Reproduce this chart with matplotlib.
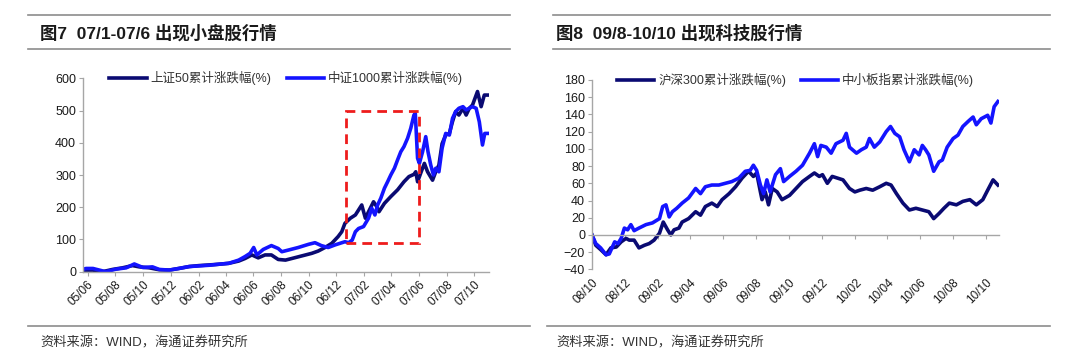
import numpy as np
import pandas as pd
import matplotlib
matplotlib.use("Agg")
import matplotlib.pyplot as plt
import matplotlib.dates as mdates
from matplotlib.patches import Rectangle
from matplotlib.lines import Line2D

plt.rcParams['font.family'] = ['Liberation Sans', 'Noto Sans CJK SC']

# ---- Figure 7 data: 上证50 vs 中证1000 cumulative change (%) ----
sz50_dates = ["2005-05-23", "2005-06-13", "2005-07-04", "2005-07-26", "2005-08-17", "2005-09-08",
              "2005-09-23", "2005-10-15", "2005-11-06", "2005-11-28", "2005-12-19", "2006-01-11",
              "2006-02-02", "2006-02-24", "2006-03-16", "2006-04-08", "2006-04-30", "2006-05-14",
              "2006-05-29", "2006-06-12", "2006-06-27", "2006-07-11", "2006-07-26", "2006-08-11",
              "2006-08-25", "2006-09-16", "2006-10-08", "2006-10-22", "2006-11-06", "2006-11-21",
              "2006-12-05", "2006-12-13", "2006-12-20", "2007-01-01", "2007-01-12", "2007-01-26",
              "2007-02-03", "2007-02-10", "2007-02-21", "2007-02-28", "2007-03-05", "2007-03-17",
              "2007-03-31", "2007-04-15", "2007-04-29", "2007-05-10", "2007-05-21", "2007-05-25",
              "2007-05-29", "2007-06-06", "2007-06-13", "2007-06-20", "2007-07-01", "2007-07-08",
              "2007-07-15", "2007-07-22", "2007-07-30", "2007-08-07", "2007-08-14", "2007-08-21",
              "2007-08-28", "2007-09-06", "2007-09-13", "2007-09-20", "2007-09-27", "2007-10-08",
              "2007-10-16", "2007-10-23", "2007-10-31"]
sz50_vals = [5, 5, 0, 7, 12, 19, 15, 12, 6, 5, 10, 16,
             19, 21, 23, 26, 33, 41, 52, 43, 52, 52, 38, 36,
             41, 49, 57, 64, 75, 88, 109, 124, 150, 166, 176, 207,
             166, 186, 217, 202, 186, 212, 233, 254, 279, 295, 302, 310,
             279, 310, 336, 310, 284, 310, 331, 397, 424, 429, 466, 497,
             486, 507, 486, 507, 517, 559, 512, 548, 548]

zz1000_dates = ["2005-05-23", "2005-05-29", "2005-06-13", "2005-06-27", "2005-07-11", "2005-08-03",
                "2005-08-25", "2005-09-12", "2005-10-01", "2005-10-22", "2005-11-06", "2005-11-28",
                "2005-12-19", "2006-01-11", "2006-02-02", "2006-02-24", "2006-03-16", "2006-04-08",
                "2006-04-30", "2006-05-14", "2006-05-25", "2006-06-02", "2006-06-09", "2006-06-23",
                "2006-07-11", "2006-07-26", "2006-08-03", "2006-08-17", "2006-09-08", "2006-10-01",
                "2006-10-15", "2006-10-29", "2006-11-13", "2006-11-28", "2006-12-09", "2006-12-20",
                "2006-12-28", "2007-01-05", "2007-01-12", "2007-01-19", "2007-01-30", "2007-02-10",
                "2007-02-17", "2007-02-24", "2007-03-02", "2007-03-09", "2007-03-17", "2007-03-24",
                "2007-03-31", "2007-04-08", "2007-04-15", "2007-04-22", "2007-04-29", "2007-05-07",
                "2007-05-14", "2007-05-21", "2007-05-24", "2007-05-29", "2007-06-02", "2007-06-09",
                "2007-06-16", "2007-06-21", "2007-06-27", "2007-07-03", "2007-07-08", "2007-07-15",
                "2007-07-22", "2007-07-30", "2007-08-07", "2007-08-14", "2007-08-21", "2007-08-28",
                "2007-09-06", "2007-09-13", "2007-09-20", "2007-09-27", "2007-10-05", "2007-10-12",
                "2007-10-19", "2007-10-24", "2007-10-31"]
zz1000_vals = [8, 10, 10, 5, 0, 8, 12, 24, 13, 15, 7, 5,
               10, 16, 18, 20, 23, 26, 36, 47, 57, 75, 52, 69,
               81, 72, 62, 67, 75, 85, 90, 81, 75, 83, 88, 93,
               90, 98, 124, 134, 140, 166, 197, 176, 207, 228, 259, 279,
               300, 321, 347, 372, 388, 414, 445, 486, 491, 352, 336, 372,
               419, 372, 331, 300, 321, 310, 383, 429, 424, 476, 497, 507,
               512, 502, 507, 512, 507, 465, 393, 429, 429]

box7_dates = ["2006-12-23", "2007-06-01"]
box7_range = [88, 498]

# ---- Figure 8 data: 沪深300 vs 中小板指 cumulative change (%) ----
hs300_dates = ["2008-10-01", "2008-10-08", "2008-10-17", "2008-10-27", "2008-11-05", "2008-11-15",
               "2008-11-24", "2008-12-03", "2008-12-09", "2008-12-18", "2008-12-27", "2009-01-06",
               "2009-01-15", "2009-01-24", "2009-02-03", "2009-02-10", "2009-02-18", "2009-02-24",
               "2009-03-02", "2009-03-11", "2009-03-17", "2009-03-29", "2009-04-11", "2009-04-20",
               "2009-04-29", "2009-05-11", "2009-05-21", "2009-05-30", "2009-06-12", "2009-06-24",
               "2009-07-06", "2009-07-18", "2009-07-27", "2009-08-02", "2009-08-09", "2009-08-12",
               "2009-08-18", "2009-08-24", "2009-08-31", "2009-09-09", "2009-09-18", "2009-10-02",
               "2009-10-14", "2009-10-26", "2009-11-08", "2009-11-17", "2009-11-26", "2009-12-02",
               "2009-12-11", "2009-12-20", "2009-12-30", "2010-01-09", "2010-01-21", "2010-01-31",
               "2010-02-09", "2010-02-21", "2010-03-05", "2010-03-18", "2010-03-30", "2010-04-08",
               "2010-04-18", "2010-04-30", "2010-05-12", "2010-05-24", "2010-06-05", "2010-06-17",
               "2010-06-26", "2010-07-06", "2010-07-15", "2010-07-25", "2010-08-07", "2010-08-19",
               "2010-09-01", "2010-09-13", "2010-09-25", "2010-10-04", "2010-10-14", "2010-10-23"]
hs300_vals = [0, -12, -17, -23, -15, -14, -8, -4, -6, -6, -15, -12,
              -10, -6, 2, 15, 6, 0, 6, 8, 15, 19, 27, 23,
              33, 37, 33, 41, 48, 56, 66, 74, 68, 72, 50, 41,
              50, 35, 54, 50, 41, 46, 54, 62, 68, 72, 68, 70,
              60, 68, 66, 64, 54, 50, 52, 54, 52, 56, 60, 58,
              48, 37, 29, 31, 29, 27, 19, 25, 31, 37, 35, 39,
              41, 35, 41, 52, 64, 58]

zxb_dates = ["2008-10-01", "2008-10-08", "2008-10-17", "2008-10-27", "2008-11-02", "2008-11-12",
             "2008-11-18", "2008-11-24", "2008-11-30", "2008-12-06", "2008-12-12", "2008-12-18",
             "2008-12-27", "2009-01-09", "2009-01-21", "2009-02-03", "2009-02-09", "2009-02-15",
             "2009-02-21", "2009-02-27", "2009-03-07", "2009-03-17", "2009-03-29", "2009-04-11",
             "2009-04-20", "2009-04-29", "2009-05-11", "2009-05-24", "2009-06-05", "2009-06-17",
             "2009-06-30", "2009-07-12", "2009-07-21", "2009-07-27", "2009-08-02", "2009-08-09",
             "2009-08-15", "2009-08-21", "2009-08-27", "2009-09-06", "2009-09-15", "2009-09-21",
             "2009-10-02", "2009-10-14", "2009-10-26", "2009-11-08", "2009-11-17", "2009-11-23",
             "2009-11-29", "2009-12-09", "2009-12-18", "2009-12-27", "2010-01-09", "2010-01-15",
             "2010-01-21", "2010-02-03", "2010-02-12", "2010-02-21", "2010-02-27", "2010-03-08",
             "2010-03-18", "2010-03-30", "2010-04-07", "2010-04-15", "2010-04-24", "2010-05-02",
             "2010-05-12", "2010-05-21", "2010-05-30", "2010-06-05", "2010-06-11", "2010-06-17",
             "2010-06-26", "2010-07-06", "2010-07-12", "2010-07-21", "2010-08-01", "2010-08-10",
             "2010-08-19", "2010-08-29", "2010-09-07", "2010-09-13", "2010-09-22", "2010-10-04",
             "2010-10-10", "2010-10-16", "2010-10-23"]
zxb_vals = [0, -10, -15, -23, -22, -8, -10, -4, 8, 6, 12, 5,
            8, 12, 14, 19, 33, 35, 21, 27, 31, 37, 43, 54,
            48, 56, 58, 58, 60, 62, 66, 74, 75, 81, 75, 58,
            48, 64, 50, 70, 77, 62, 68, 74, 81, 95, 106, 91,
            104, 102, 95, 106, 110, 118, 102, 95, 99, 102, 112, 102,
            108, 120, 126, 118, 114, 99, 85, 99, 93, 104, 99, 93,
            74, 85, 87, 102, 112, 116, 126, 132, 137, 128, 135, 139,
            130, 149, 155]

dark = '#0a0a72'
blue = '#1414ff'
grey = '#8c8c8c'

fig = plt.figure(figsize=(10.8, 3.62), dpi=100)


def style_axes(ax, yticks, xpad):
    for s in ['top', 'right']:
        ax.spines[s].set_visible(False)
    for s in ['left', 'bottom']:
        ax.spines[s].set_color('#a6a6a6')
        ax.spines[s].set_linewidth(1.0)
    ax.set_yticks(yticks)
    ax.tick_params(axis='y', length=3, color='#a6a6a6', labelsize=9, labelcolor='#1a1a1a', pad=2)
    ax.xaxis.set_major_locator(mdates.MonthLocator(bymonth=[2, 4, 6, 8, 10, 12]))
    ax.xaxis.set_major_formatter(mdates.DateFormatter('%y/%m'))
    ax.tick_params(axis='x', length=3, color='#a6a6a6', labelsize=8.5, labelcolor='#1a1a1a',
                   pad=xpad, labelrotation=45)
    plt.setp(ax.get_xticklabels(), ha='right', rotation_mode='anchor')
    ax.legend(loc='center', bbox_to_anchor=(0.5, 1.0), ncol=2, frameon=False, fontsize=9,
              handlelength=3.0, handletextpad=0.3, columnspacing=1.2, labelcolor='#333333')


# left chart
ax1 = fig.add_axes([83 / 1080, 1 - 271.7 / 362, 406.3 / 1080, 193.4 / 362])
ax1.plot(pd.to_datetime(sz50_dates), sz50_vals, color=dark, lw=2.6, label='上证50累计涨跌幅(%)')
ax1.plot(pd.to_datetime(zz1000_dates), zz1000_vals, color=blue, lw=2.6, label='中证1000累计涨跌幅(%)')
bx = pd.to_datetime(box7_dates)
bx0, bx1 = mdates.date2num(bx[0]), mdates.date2num(bx[1])
ax1.add_patch(Rectangle((bx0, box7_range[0]), bx1 - bx0, box7_range[1] - box7_range[0],
                        fill=False, edgecolor='#ee1c1c', lw=2.0, ls=(0, (3.5, 2.2)), zorder=5))
ax1.set_xlim(pd.Timestamp("2005-05-22"), pd.Timestamp("2007-11-03"))
ax1.set_ylim(0, 600)
style_axes(ax1, np.arange(0, 601, 100), 2)

# right chart
ax2 = fig.add_axes([592 / 1080, 1 - 269.4 / 362, 407 / 1080, 189.4 / 362])
ax2.plot(pd.to_datetime(hs300_dates), hs300_vals, color=dark, lw=2.6, label='沪深300累计涨跌幅(%)')
ax2.plot(pd.to_datetime(zxb_dates), zxb_vals, color=blue, lw=2.6, label='中小板指累计涨跌幅(%)')
ax2.set_xlim(pd.Timestamp("2008-10-01"), pd.Timestamp("2010-10-25"))
ax2.set_ylim(-40, 180)
ax2.spines['bottom'].set_position(('data', 0))
style_axes(ax2, np.arange(-40, 181, 20), 27)

# header / footer rules and texts
for x0, x1 in [(28, 510), (553, 1050)]:
    for yy in [15, 49]:
        fig.add_artist(Line2D([x0 / 1080, x1 / 1080], [1 - yy / 362] * 2, color=grey, lw=1.2))
for x0, x1 in [(28, 530), (547, 1050)]:
    fig.add_artist(Line2D([x0 / 1080, x1 / 1080], [1 - 326 / 362] * 2, color=grey, lw=1.2))

fig.text(40 / 1080, 1 - 33 / 362, '图7  07/1-07/6 出现小盘股行情', fontsize=12.5, weight='bold',
         va='center', ha='left', color='#1a1a1a')
fig.text(556 / 1080, 1 - 33 / 362, '图8  09/8-10/10 出现科技股行情', fontsize=12.5, weight='bold',
         va='center', ha='left', color='#1a1a1a')
fig.text(40 / 1080, 1 - 343 / 362, '资料来源：WIND，海通证券研究所', fontsize=9.5,
         va='center', ha='left', color='#333333')
fig.text(556 / 1080, 1 - 343 / 362, '资料来源：WIND，海通证券研究所', fontsize=9.5,
         va='center', ha='left', color='#333333')

fig.savefig('out.png', dpi=100)
